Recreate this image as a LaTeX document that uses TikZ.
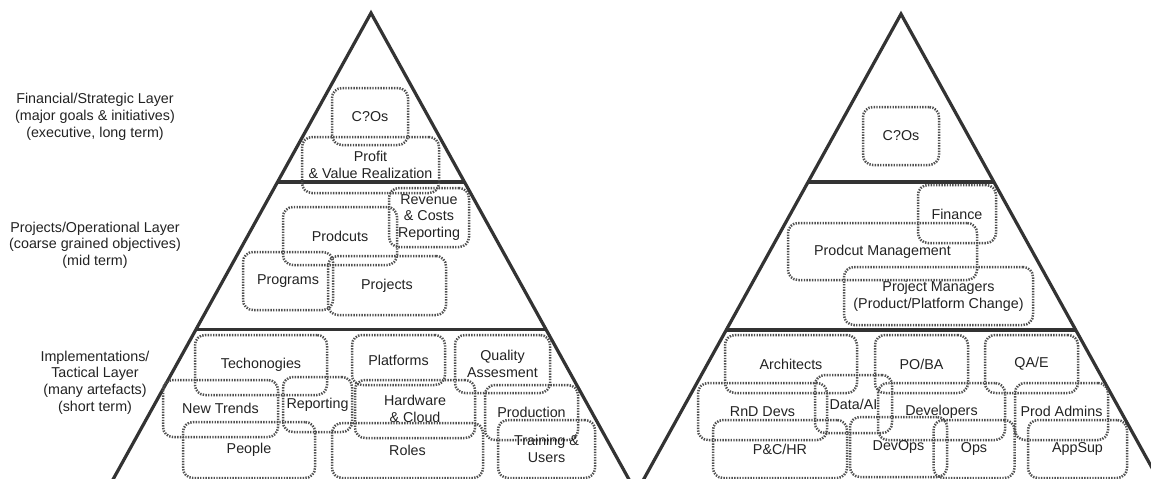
\documentclass[tikz,border=0pt]{standalone}
\usepackage{fontspec}
\setmainfont{Liberation Sans}
\usetikzlibrary{calc}
\definecolor{edge}{HTML}{333333}
\definecolor{dots}{HTML}{505050}
\definecolor{ink}{HTML}{222222}
\begin{document}
\begin{tikzpicture}[x=1pt,y=-1pt,
  every node/.style={font=\fontsize{14.3}{16.7}\selectfont, text=ink, align=center, inner sep=0pt},
  group/.style={draw=dots, line width=2.5pt, dash pattern=on 1.4pt off 1.3pt,
                rounded corners=10pt, minimum width=#1},
  layerline/.style={draw=edge, line width=3.2pt},
  tag/.style={align=center}]
\useasboundingbox (0,0) rectangle (1151,479);
\clip (0,0) rectangle (1151,479);

% ---- left pyramid: the management layers ----
\coordinate (lA) at (371,13);
\coordinate (lL) at (90.6,520);
\coordinate (lR) at (651.4,520);
\draw[layerline] (lL) -- (lA) -- (lR);
\draw[layerline] ($(lA)!0.3333!(lL)$) -- ($(lA)!0.3333!(lR)$);
\draw[layerline] ($(lA)!0.625!(lL)$) -- ($(lA)!0.625!(lR)$);

% ---- right pyramid: the roles ----
\coordinate (rA) at (901,14);
\coordinate (rL) at (620.6,521);
\coordinate (rR) at (1181.4,521);
\draw[layerline] (rL) -- (rA) -- (rR);
\draw[layerline] ($(rA)!0.3314!(rL)$) -- ($(rA)!0.3314!(rR)$);
\draw[layerline] ($(rA)!0.6233!(rL)$) -- ($(rA)!0.6233!(rR)$);

% ---- layer captions ----
\node[tag] (capFin) at (95,117) {Financial/Strategic Layer\\(major goals \& initiatives)\\(executive, long term)};
\node[tag] (capProj) at (95,245) {Projects/Operational Layer\\(coarse grained objectives)\\(mid term)};
\node[tag] (capImpl) at (95,382.5) {Implementations/\\Tactical Layer\\(many artefacts)\\(short term)};

% ---- left pyramid groups ----
\node[group=76pt, minimum height=57pt] (lceo) at (370,116.5) {C?Os};
\node[group=137pt, minimum height=56pt] (profit) at (370.5,165) {Profit\\\& Value Realization};
\node[group=80pt, minimum height=59pt] (revenue) at (429,217.5) {Revenue\\\& Costs\\Reporting};
\node[group=114pt, minimum height=58pt] (prodcuts) at (340,236) {Prodcuts};
\node[group=90pt, minimum height=58pt] (programs) at (288,281) {Programs};
\node[group=118pt, minimum height=59pt] (projects) at (387,285.5) {Projects};

\node[group=132pt, minimum height=60pt] (techs) at (261,365) {Techonogies};
\node[group=93pt, minimum height=50pt] (platforms) at (398.5,360) {Platforms};
\node[group=95pt, minimum height=58pt] (quality) at (502.5,364) {Quality\\Assesment};
\node[group=115pt, minimum height=57pt] (trends) at (220.5,408.5) {New Trends};
\node[group=69pt, minimum height=55pt] (reporting) at (317.5,404.5) {Reporting};
\node[group=120pt, minimum height=58pt] (hardware) at (415,409) {Hardware\\\& Cloud};
\node[group=93pt, minimum height=55pt] (production) at (531.5,412.5) {Production};
\node[group=132pt, minimum height=56pt] (people) at (249,450) {People};
\node[group=151pt, minimum height=55pt] (roles) at (407.5,450.5) {Roles};
\node[group=97pt, minimum height=58pt] (training) at (546.5,449) {Training \&\\Users};

% ---- right pyramid groups ----
\node[group=76pt, minimum height=58pt] (rceo) at (901,136) {C?Os};
\node[group=78pt, minimum height=58pt] (finance) at (957,214) {Finance};
\node[group=189pt, minimum height=57pt] (prodmgmt) at (882.5,251.5) {Prodcut Management};
\node[group=189pt, minimum height=58pt] (projmgr) at (938.5,296) {Project Managers\\(Product/Platform Change)};

\node[group=132pt, minimum height=58pt] (architects) at (791,364) {Architects};
\node[group=93pt, minimum height=58pt] (poba) at (921.5,364) {PO/BA};
\node[group=93pt, minimum height=58pt] (qae) at (1031.5,364) {QA/E};
\node[group=129pt, minimum height=57pt] (rnd) at (762.5,411.5) {RnD Devs};
\node[group=77pt, minimum height=58pt] (dataai) at (853.5,404) {Data/AI};
\node[group=127pt, minimum height=57pt] (developers) at (941.5,411.5) {Developers};
\node[group=93pt, minimum height=57pt] (prodadmins) at (1061.5,411.5) {Prod Admins};
\node[group=134pt, minimum height=58pt] (pchr) at (780,449) {P\&C/HR};
\node[group=97pt, minimum height=60pt] (devops) at (898.5,447) {DevOps};
\node[group=81pt, minimum height=58pt] (ops) at (974,449) {Ops};
\node[group=99pt, minimum height=58pt] (appsup) at (1077.5,449) {AppSup};
\end{tikzpicture}
\end{document}
